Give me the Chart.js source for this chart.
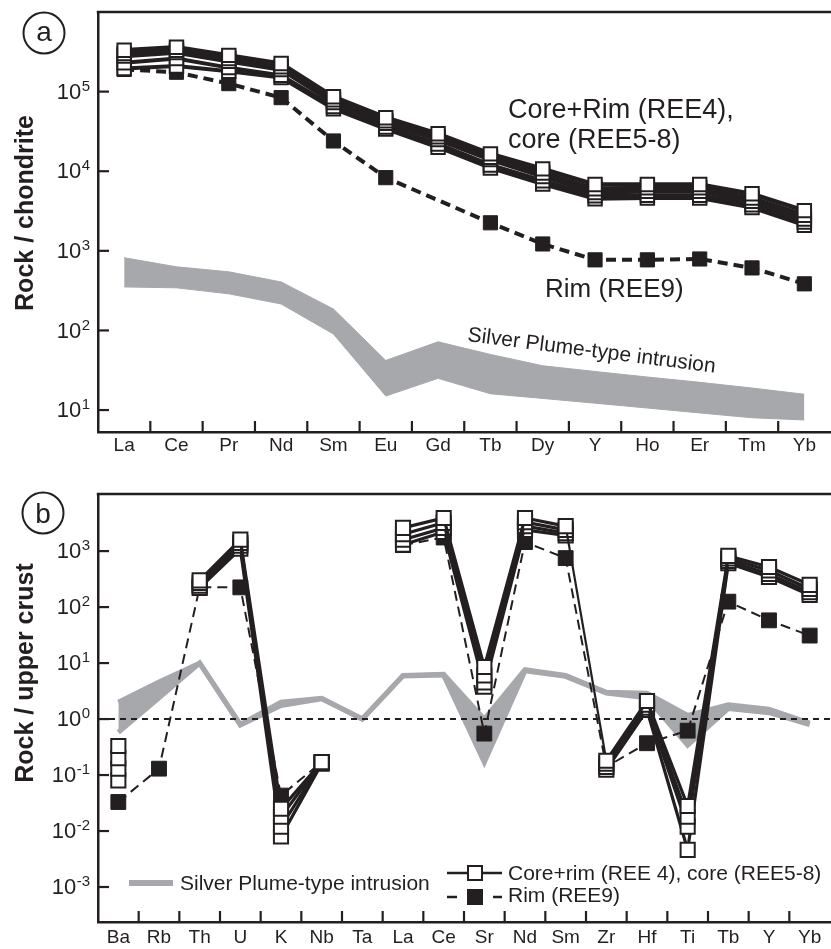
<!DOCTYPE html>
<html>
<head>
<meta charset="utf-8">
<script src="https://cdn.jsdelivr.net/npm/chart.js@4.4.1/dist/chart.umd.min.js"></script>
<style>
  html, body { margin: 0; padding: 0; background: #fff; overflow: hidden; width: 831px; height: 949px; }
  canvas { position: absolute; left: 0; }
  #chartA { top: 0; }
  #chartB { top: 470px; }
</style>
</head>
<body>
<canvas id="chartA" width="842" height="470"></canvas>
<canvas id="chartB" width="842" height="479"></canvas>
<script>
const INK = '#231f20';
const GREY = '#a6a8ab';
const FONT = '"Liberation Sans", Arial, sans-serif';

// (a) rock / chondrite
const elementsA = ['La', 'Ce', 'Pr', 'Nd', 'Sm', 'Eu', 'Gd', 'Tb', 'Dy', 'Y', 'Ho', 'Er', 'Tm', 'Yb'];
const coreA1 = [3.3e5, 3.6e5, 2.85e5, 2.25e5, 8.6e4, 4.7e4, 2.95e4, 1.65e4, 1.07e4, 6.8e3, 6.8e3, 6.8e3, 5.2e3, 3.2e3];
const coreA2 = [3.0e5, 3.3e5, 2.6e5, 2.05e5, 7.9e4, 4.3e4, 2.7e4, 1.5e4, 9.5e3, 6.0e3, 6.2e3, 6.2e3, 4.6e3, 2.8e3];
const coreA3 = [2.8e5, 3.1e5, 2.4e5, 1.9e5, 7.3e4, 4.0e4, 2.5e4, 1.4e4, 8.6e3, 5.4e3, 5.6e3, 5.6e3, 4.2e3, 2.5e3];
const coreA4 = [2.3e5, 2.6e5, 2.0e5, 1.6e5, 6.5e4, 3.6e4, 2.2e4, 1.2e4, 7.6e3, 4.9e3, 5.0e3, 5.0e3, 3.8e3, 2.3e3];
const coreA5 = [1.95e5, 2.1e5, 1.8e5, 1.5e5, 6.1e4, 3.4e4, 2.0e4, 1.1e4, 6.9e3, 4.5e3, 4.6e3, 4.6e3, 3.5e3, 2.1e3];
const rimA = [1.9e5, 1.75e5, 1.26e5, 8.4e4, 2.4e4, 8.3e3, null, 2.25e3, 1.22e3, 770, 770, 790, 610, 385];
const plumeTopA = [820, 630, 545, 407, 186, 42, 72, 50, 36, 30.5, 26, 22.3, 18.9, 15.8];
const plumeBotA = [352, 343, 288, 215, 90, 15, 25, 16, 14, 12.2, 10.6, 9.2, 8, 7.5];
const tickExpA = [1, 2, 3, 4, 5];

// (b) rock / upper crust
const elementsB = ['Ba', 'Rb', 'Th', 'U', 'K', 'Nb', 'Ta', 'La', 'Ce', 'Sr', 'Nd', 'Sm', 'Zr', 'Hf', 'Ti', 'Tb', 'Y', 'Yb'];
const coreB1 = [0.33, null, 300, 1600, 0.025, 0.17, null, 2600, 3900, 8.5, 3900, 2800, 0.18, 2.1, 0.028, 820, 520, 250];
const coreB2 = [0.2, null, 270, 1400, 0.018, 0.17, null, 2000, 3200, 6.0, 3300, 2400, 0.16, 1.8, 0.018, 740, 450, 210];
const coreB3 = [0.13, null, 240, 1250, 0.012, 0.165, null, 1600, 2600, 4.5, 2800, 2100, 0.14, 1.6, 0.012, 670, 390, 185];
const coreB4 = [0.08, null, 220, 1100, 0.008, 0.16, null, 1300, 2200, 3.8, 2400, 1900, 0.125, 1.45, 0.0046, 610, 345, 165];
const rimB = [0.033, 0.13, 225, 225, 0.043, 0.17, null, 1280, 1750, 0.55, 1450, 750, 0.14, 0.37, 0.62, 125, 58, 31];
const plumeTopB = [2.0, 4.6, 10, 0.8, 2.0, 2.35, 1.0, 6.0, 6.3, 1.0, 7.6, 6.0, 3.0, 2.9, 1.16, 1.8, 1.5, 0.85];
const plumeBotB = [0.58, 2.4, 10, 0.78, 1.75, 2.3, 1.0, 5.9, 6.1, 0.17, 7.3, 5.8, 2.9, 2.4, 0.34, 1.55, 1.3, 0.8];
const tickExpB = [-3, -2, -1, 0, 1, 2, 3];

function line(ctx, x1, y1, x2, y2) {
  ctx.beginPath(); ctx.moveTo(x1, y1); ctx.lineTo(x2, y2); ctx.stroke();
}

function framePlugin(p) {
  return {
    id: 'frame' + p.tag,
    afterDatasetsDraw(chart) {
      if (!p.refLine) return;
      const ctx = chart.ctx, area = chart.chartArea;
      const y = chart.scales.y.getPixelForValue(1);
      ctx.save();
      ctx.strokeStyle = INK; ctx.lineWidth = 2; ctx.setLineDash([6, 5]);
      line(ctx, area.left, y, chart.width, y);
      ctx.restore();
    },
    afterDraw(chart) {
      const ctx = chart.ctx, area = chart.chartArea;
      const xs = chart.scales.x, ys = chart.scales.y;
      ctx.save();
      ctx.strokeStyle = INK; ctx.fillStyle = INK;
      ctx.lineWidth = 2.5;
      line(ctx, area.left - 1.25, area.top, chart.width, area.top);
      // inward ticks between categories
      const n = xs.getLabels().length;
      const step = (area.right - area.left) / n;
      ctx.lineWidth = 2.2;
      for (let i = 1; i < n; i++) {
        const x = area.left + i * step;
        line(ctx, x, area.bottom, x, area.bottom - 11);
      }
      // decade ticks and 10^n labels
      ctx.textAlign = 'right'; ctx.textBaseline = 'middle';
      p.tickExp.forEach(e => {
        const y = ys.getPixelForValue(Math.pow(10, e));
        line(ctx, area.left, y, area.left + 11, y);
        ctx.font = '15px ' + FONT;
        const ex = String(e);
        const w = ctx.measureText(ex).width;
        ctx.fillText(ex, 90, y - 5);
        ctx.font = '22px ' + FONT;
        ctx.fillText('10', 90 - w - 0.5, y + 1);
      });
      // axis title
      ctx.save();
      ctx.translate(33, p.titleY);
      ctx.rotate(-Math.PI / 2);
      ctx.textAlign = 'center'; ctx.textBaseline = 'alphabetic';
      ctx.font = 'bold 25px ' + FONT;
      ctx.fillText(p.title, 0, 0);
      ctx.restore();
      // panel letter
      ctx.lineWidth = 2;
      ctx.beginPath(); ctx.arc(p.circle[0], p.circle[1], 20.5, 0, Math.PI * 2); ctx.stroke();
      ctx.textAlign = 'center'; ctx.textBaseline = 'alphabetic';
      ctx.font = '28px ' + FONT;
      ctx.fillText(p.letter, p.circle[0], p.circle[2]);
      if (p.extra) p.extra(ctx, chart);
      ctx.restore();
    }
  };
}

function baseOptions(c) {
  return {
    responsive: false,
    animation: false,
    devicePixelRatio: 1,
    layout: { padding: { top: c.top, right: 2, left: 0, bottom: 0 } },
    plugins: { legend: { display: false }, tooltip: { enabled: false } },
    scales: {
      x: {
        type: 'category', offset: true,
        grid: { display: false, drawTicks: false },
        border: { display: true, color: INK, width: 2.5 },
        ticks: { color: INK, font: { family: FONT, size: 19 }, padding: c.labelPad, autoSkip: false, maxRotation: 0 },
        afterFit: s => { s.height = c.xh; }
      },
      y: {
        type: 'logarithmic', min: c.min, max: c.max,
        grid: { display: false, drawTicks: false },
        border: { display: true, color: INK, width: 2.5 },
        ticks: { display: false },
        afterBuildTicks: s => { s.ticks = c.tickExp.map(e => ({ value: Math.pow(10, e) })); },
        afterFit: s => { s.width = 98; }
      }
    }
  };
}

function coreSet(data, width, radius, extra) {
  return Object.assign({
    data, order: 1, borderColor: INK, borderWidth: width, tension: 0,
    pointStyle: 'rect', pointRadius: radius, pointBorderWidth: 2,
    pointBackgroundColor: '#fff', pointBorderColor: INK
  }, extra || {});
}

// ---------- panel (a)
const gapA = c => c.p1DataIndex - c.p0DataIndex > 1;
new Chart(document.getElementById('chartA'), {
  type: 'line',
  data: {
    labels: elementsA,
    datasets: [
      coreSet(coreA1, 4.5, 9.5),
      coreSet(coreA2, 4.5, 9.5),
      coreSet(coreA3, 4.5, 9.5),
      coreSet(coreA4, 4, 9.5),
      coreSet(coreA5, 4, 9.5),
      {
        data: rimA, order: 2, borderColor: INK, borderWidth: 4, borderDash: [10, 6], spanGaps: true,
        segment: {
          borderDash: c => gapA(c) ? [2, 3] : [10, 6],
          borderWidth: c => gapA(c) ? 1.5 : 4
        },
        pointStyle: 'rect', pointRadius: 10, pointBorderWidth: 1, pointBackgroundColor: INK, pointBorderColor: INK
      },
      { data: plumeTopA, order: 3, borderColor: GREY, borderWidth: 1, backgroundColor: GREY, fill: '+1', pointRadius: 0 },
      { data: plumeBotA, order: 3, borderColor: GREY, borderWidth: 1, fill: false, pointRadius: 0 }
    ]
  },
  options: baseOptions({ top: 12, xh: 38, labelPad: 2, min: 5.3, max: 1e6, tickExp: tickExpA }),
  plugins: [framePlugin({
    tag: 'A', tickExp: tickExpA, title: 'Rock / chondrite', titleY: 213, letter: 'a', circle: [44, 33, 41],
    extra(ctx) {
      ctx.textAlign = 'left'; ctx.textBaseline = 'alphabetic';
      ctx.font = '27px ' + FONT;
      ctx.fillText('Core+Rim (REE4),', 508, 118);
      ctx.fillText('core (REE5-8)', 508, 148);
      ctx.font = '26px ' + FONT;
      ctx.fillText('Rim (REE9)', 545, 297);
      ctx.save();
      ctx.translate(467, 341);
      ctx.rotate(7.3 * Math.PI / 180);
      ctx.font = '21px ' + FONT;
      ctx.fillText('Silver Plume-type intrusion', 0, 0);
      ctx.restore();
    }
  })]
});

// ---------- panel (b)
const smIdx = elementsB.indexOf('Sm');
function coreB(data, k) {
  return coreSet(data, 3.2, 10, {
    segment: {
      borderWidth: c => c.p0DataIndex === smIdx ? 2.2 : 3.2,
      borderColor: c => (c.p0DataIndex === smIdx && k > 0) ? 'rgba(0,0,0,0)' : INK
    }
  });
}
new Chart(document.getElementById('chartB'), {
  type: 'line',
  data: {
    labels: elementsB,
    datasets: [
      coreB(coreB1, 0),
      coreB(coreB2, 1),
      coreB(coreB3, 2),
      coreB(coreB4, 3),
      {
        data: rimB, order: 2, borderColor: INK, borderWidth: 2, borderDash: [10, 6], tension: 0,
        pointStyle: 'rect', pointRadius: 10.5, pointBorderWidth: 1, pointBackgroundColor: INK, pointBorderColor: INK
      },
      { data: plumeTopB, order: 3, borderColor: GREY, borderWidth: 5, backgroundColor: GREY, fill: '+1', pointRadius: 0 },
      { data: plumeBotB, order: 3, borderColor: GREY, borderWidth: 5, fill: false, pointRadius: 0 }
    ]
  },
  options: baseOptions({ top: 24, xh: 27, labelPad: 4, min: Math.pow(10, -3.625), max: Math.pow(10, 4.02), tickExp: tickExpB }),
  plugins: [framePlugin({
    tag: 'B', tickExp: tickExpB, title: 'Rock / upper crust', titleY: 203, letter: 'b', circle: [43, 43, 53], refLine: true,
    extra(ctx) {
      ctx.textAlign = 'left'; ctx.textBaseline = 'alphabetic';
      ctx.font = '21px ' + FONT;
      // grey sample
      ctx.strokeStyle = GREY; ctx.lineWidth = 6; ctx.setLineDash([]);
      line(ctx, 129, 413, 173, 413);
      ctx.fillText('Silver Plume-type intrusion', 180, 420);
      // core sample
      ctx.strokeStyle = INK; ctx.lineWidth = 2.5;
      line(ctx, 447, 403, 502, 403);
      ctx.fillStyle = '#fff'; ctx.fillRect(468, 396, 14, 14);
      ctx.lineWidth = 2; ctx.strokeRect(468, 396, 14, 14);
      ctx.fillStyle = INK;
      ctx.fillText('Core+rim (REE 4), core (REE5-8)', 508, 410);
      // rim sample
      ctx.lineWidth = 2.5;
      line(ctx, 447, 427, 457, 427);
      line(ctx, 493, 427, 502, 427);
      ctx.fillRect(467, 419, 16, 16);
      ctx.fillText('Rim (REE9)', 508, 432);
    }
  })]
});
</script>
</body>
</html>
